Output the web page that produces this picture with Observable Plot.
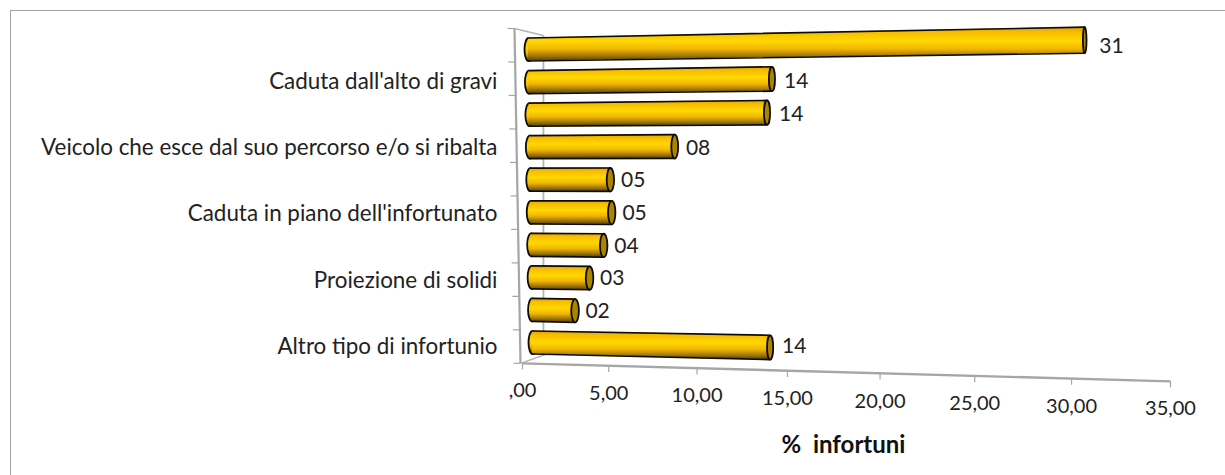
<!DOCTYPE html>
<html><head><meta charset="utf-8">
<script src="https://cdn.jsdelivr.net/npm/d3@7"></script>
<script src="https://cdn.jsdelivr.net/npm/@observablehq/plot@0.6"></script>
<style>
html,body{margin:0;padding:0;background:#fff;overflow:hidden;width:1225px;height:475px}
#frame{position:absolute;left:10px;top:10px;width:1400px;height:600px;border:1.5px solid #a3a3a3}
#chart{position:absolute;left:0;top:0}
</style></head><body><div id="frame"></div><div id="chart"></div>
<script>
const categories = ["", "Caduta dall'alto di gravi", "", "Veicolo che esce dal suo percorso e/o si ribalta", "", "Caduta in piano dell'infortunato", "", "Proiezione di solidi", "", "Altro tipo di infortunio"];
const values = [30.9, 13.5, 13.2, 8.05, 4.45, 4.5, 4.03, 3.22, 2.39, 13.2];
const valueLabels = ["31", "14", "14", "08", "05", "05", "04", "03", "02", "14"];
const axisTicks = [0, 5, 10, 15, 20, 25, 30, 35];
const axisTickLabels = [",00", "5,00", "10,00", "15,00", "20,00", "25,00", "30,00", "35,00"];
const axisTitle = "%  infortuni";

const FONT = "Lato, 'Open Sans', sans-serif";
const PXU = 18, PXR = 32.56; // px per value unit / per row, used to express the 3D projection in data units

// Perspective: the bars fan out, and the floor axis is slanted and stretched
const rowStart = r => (r - 1) * 4 / 9 / PXU;
const tilt = r => (r - 5) * 0.075 / PXR;
const axisV = v => { const u = v / 35; return (-6 + 596 * u + 52 * u * u) / PXU; };
const axisR = v => 10.64 + (v / 35) * 0.553;

const bars = values.map((value, i) => {
  const row = i + 1, x0 = rowStart(row), x1 = x0 + value;
  return {row, value, x0, x1, label: valueLabels[i], category: categories[i],
    y0: row, y1: row + tilt(row) * value,
    t0: 23 / PXR, t1: (23 + value * 0.1) / PXR, cap: Math.max(1.8, 4 - value * 0.07)};
});
const bodies = bars.flatMap(b => [
  {row: b.row, x: b.x0, a: b.y0 - b.t0 / 2, b: b.y0 + b.t0 / 2},
  {row: b.row, x: b.x1, a: b.y1 - b.t1 / 2, b: b.y1 + b.t1 / 2}
]);

const ellipse = ratio => ({draw(ctx, size) {
  const ry = Math.sqrt(size / Math.PI), rx = ratio, k = 0.5523;
  ctx.moveTo(-rx, 0);
  ctx.bezierCurveTo(-rx, -ry * k, -rx * k, -ry, 0, -ry);
  ctx.bezierCurveTo(rx * k, -ry, rx, -ry * k, rx, 0);
  ctx.bezierCurveTo(rx, ry * k, rx * k, ry, 0, ry);
  ctx.bezierCurveTo(-rx * k, ry, -rx, ry * k, -rx, 0);
  ctx.closePath();
}});

const defs = () => {
  const s = document.createElementNS("http://www.w3.org/2000/svg", "g");
  s.innerHTML = `<defs><linearGradient id="gold" x1="0" y1="0" x2="0" y2="1">
    <stop offset="0" stop-color="#d9a000"/><stop offset=".15" stop-color="#f8bc00"/>
    <stop offset=".42" stop-color="#ffd800"/><stop offset=".66" stop-color="#f2b600"/>
    <stop offset=".86" stop-color="#a07800"/><stop offset="1" stop-color="#5e4600"/>
  </linearGradient></defs>`;
  return s;
};

const wallTicks = d3.range(11).map(i => i / 10);
const wallX = f => (-14 + 6 * f) / PXU, wallR = f => 0.355 + f * (10.64 - 0.355);
const grey = "#a6a6a6";
const INK = "#0c0c0c", TXT = "#222";

const plot = Plot.plot({
  width: 1225, height: 475, margin: 0,
  style: {background: "transparent", fontFamily: FONT},
  x: {domain: [0, 35], range: [528, 1158], axis: null},
  y: {domain: [1, 10], range: [49, 342], axis: null},
  marks: [
    defs,
    // walls and axes
    Plot.link([{a: 0.83, r1: 0.57, r2: 10.37}], {x1: "a", x2: "a", y1: "r1", y2: "r2", stroke: "#b5b5b5", strokeWidth: 1.8}),
    Plot.link([0, 1], {x1: f => wallX(f), y1: f => wallR(f), x2: f => f ? 1 / PXU * 17 : 0.83, y2: f => f ? 10.37 : 0.57, stroke: "#b5b5b5", strokeWidth: 1.5}),
    Plot.link([0], {x1: () => wallX(0), y1: () => wallR(0), x2: () => wallX(1), y2: () => wallR(1), stroke: grey, strokeWidth: 2.2}),
    Plot.link(wallTicks, {x1: f => wallX(f), x2: f => wallX(f) - 7 / PXU, y1: f => wallR(f), y2: f => wallR(f), stroke: grey, strokeWidth: 1.2}),
    Plot.link([0], {x1: () => axisV(0), y1: () => axisR(0), x2: () => axisV(35), y2: () => axisR(35), stroke: grey, strokeWidth: 2.4}),
    Plot.link(axisTicks, {x1: axisV, x2: axisV, y1: axisR, y2: v => axisR(v) + 6 / PXR, stroke: grey, strokeWidth: 1.2}),
    // left caps, cylinder bodies, right caps
    ...bars.map(b => Plot.dot([b], {x: "x0", y: "y0", r: 11.5, symbol: ellipse(4), fill: "url(#gold)", stroke: INK, strokeWidth: 1.8})),
    Plot.areaY(bodies, {x: "x", y1: "a", y2: "b", z: "row", fill: "url(#gold)"}),
    Plot.line(bodies, {x: "x", y: "a", z: "row", stroke: INK, strokeWidth: 1.7}),
    Plot.line(bodies, {x: "x", y: "b", z: "row", stroke: INK, strokeWidth: 1.7}),
    ...bars.map(b => Plot.dot([b], {x: "x1", y: "y1", r: 11.5 + b.value * 0.05, symbol: ellipse(b.cap), fill: "#ad8400", stroke: INK, strokeWidth: 1.8})),
    // texts
    Plot.text(bars, {x: d => d.x1 + (10 + d.value * 0.15) / PXU, y: d => d.row + tilt(d.row) * d.value / 2, dy: 1, text: "label", textAnchor: "start", fontSize: 21, fill: TXT}),
    Plot.text(bars, {x: 0, dx: -31, y: d => d.row + (d.row - 2) * 0.5 / PXR, text: "category", textAnchor: "end", fontSize: 22.4, fill: TXT}),
    Plot.text(axisTicks, {x: axisV, y: v => axisR(v), dy: 27.5, text: (v, i) => axisTickLabels[i], fontSize: 20, fill: TXT}),
    Plot.text([axisTitle], {x: () => (843 - 528) / PXU, y: () => 1 + (445 - 49) / PXR, text: d => d, fontSize: 24, fontWeight: "bold", fill: "#111"})
  ]
});
document.getElementById("chart").append(plot);
</script></body></html>
